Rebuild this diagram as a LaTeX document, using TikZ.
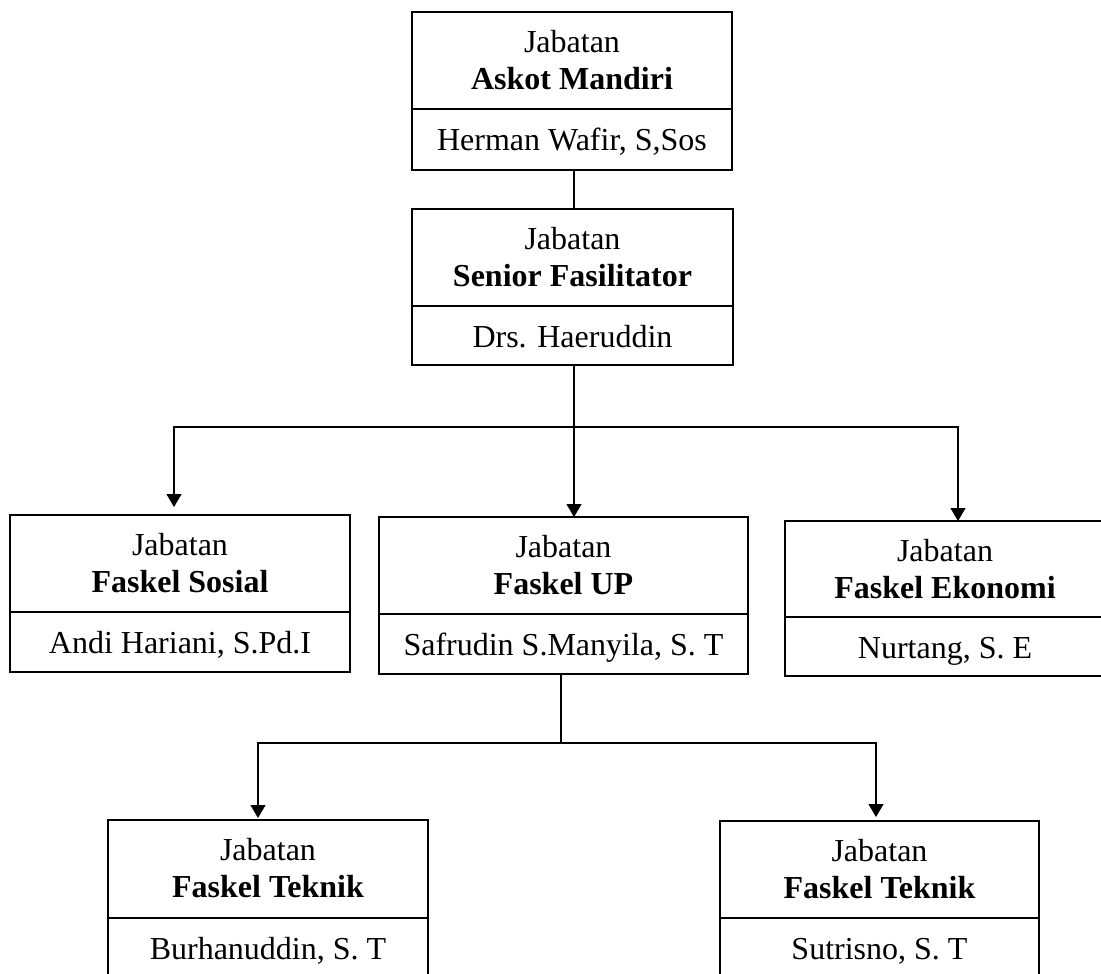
\documentclass[tikz,border=0pt]{standalone}
\usepackage{fontspec}
\setmainfont{Liberation Serif}
\usetikzlibrary{arrows.meta,calc}

\tikzset{
  boxpart/.style={draw, line width=1.3pt, rectangle, inner sep=0pt, outer sep=0pt},
  rule/.style={line width=1.3pt},
  lbl/.style={inner sep=0pt, outer sep=0pt, font=\fontsize{32}{37}\selectfont},
  lblbold/.style={inner sep=0pt, outer sep=0pt, font=\fontsize{32}{37}\selectfont\bfseries},
  link/.style={line width=1.2pt},
  arr/.style={link, -{Triangle[width=15pt,length=13pt]}},
}

% \orgbox{name}{left}{top}{divider}{bottom}{right}{position}{holder}
\newcommand\orgbox[8]{%
  \node[boxpart, anchor=north west,
        minimum width={(#6-#2)*1pt}, minimum height={(#5-#3)*1pt}] (#1) at (#2,#3) {};
  \coordinate (#1-d) at (#1.west |- 0,#4);
  \coordinate (#1-m) at (#1.north |- 0,#4);
  \draw[rule] (#1-d) -- (#1-d -| #1.east);
  \node[lbl, anchor=base] (#1-a) at ([yshift=-40.5pt]#1.north) {Jabatan};
  \node[lblbold, anchor=base] (#1-b) at ([yshift=-77.5pt]#1.north) {#7};
  \node[lbl, anchor=base] (#1-c) at ([yshift=-41.5pt]#1-m) {#8};
}

\begin{document}
\begin{tikzpicture}[x=1pt,y=-1pt]
\useasboundingbox (0,0) rectangle (1101,974);
\clip (0,0) rectangle (1101,974);

\orgbox{askot}{412}{12}{109}{170}{732}{Askot Mandiri}{Herman Wafir, S,Sos}
\orgbox{senior}{412}{209}{306}{365}{733}{Senior Fasilitator}{Drs. Haeruddin}
\orgbox{sosial}{10}{515}{612}{672}{350}{Faskel Sosial}{Andi Hariani, S.Pd.I}
\orgbox{up}{379}{517}{614}{674}{748}{Faskel UP}{Safrudin S.Manyila, S. T}
\orgbox{ekonomi}{785}{521}{617}{676}{1105}{Faskel Ekonomi}{Nurtang, S. E}
\orgbox{teknikA}{108}{820}{918}{990}{428}{Faskel Teknik}{Burhanuddin, S. T}
\orgbox{teknikB}{720}{821}{918}{990}{1039}{Faskel Teknik}{Sutrisno, S. T}

% junctions of the branch lines
\coordinate (j1) at (574,427);
\coordinate (j2) at (561,743);

\draw[link] (askot.south -| j1) -- (senior.north -| j1);
\draw[link] (senior.south -| j1) -- (j1);
\draw[arr, shorten >=8pt] (j1) -| ([xshift=-6pt]sosial.north);
\draw[arr] (j1) -- (j1 |- up.north);
\draw[arr] (j1) -| ([xshift=13pt]ekonomi.north);

\draw[link] (up.south -| j2) -- (j2);
\draw[arr, shorten >=2pt] (j2) -| ([xshift=-10pt]teknikA.north);
\draw[arr, shorten >=4pt] (j2) -| ([xshift=-3.5pt]teknikB.north);
\end{tikzpicture}
\end{document}
